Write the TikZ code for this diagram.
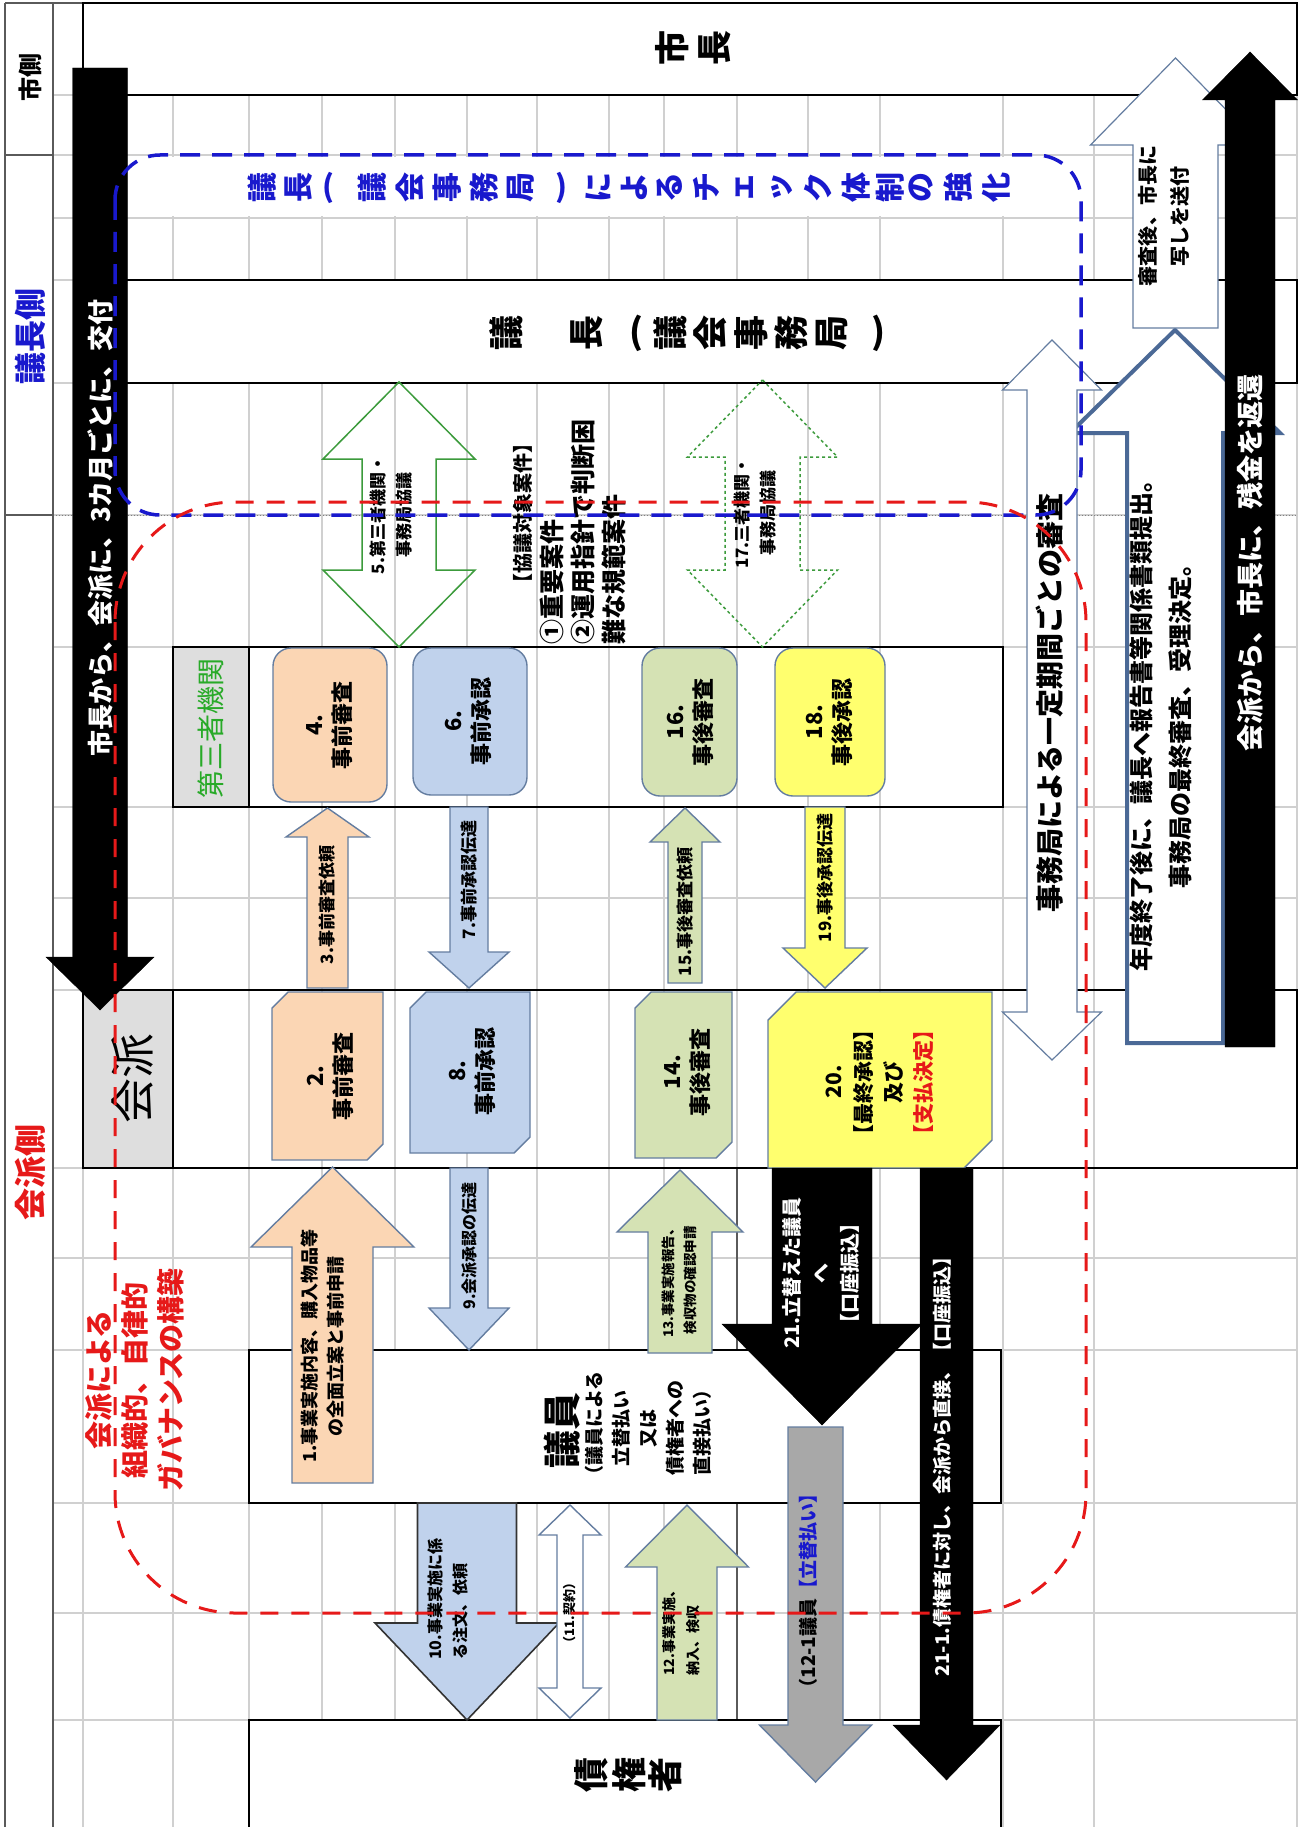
\documentclass[tikz,border=0pt]{standalone}
\usepackage{fontspec}
\setmainfont{Noto Sans CJK JP}
\newcommand{\fsz}[2]{\fontsize{#1}{#2}\selectfont}
\newcommand{\myLP}{(}
\newcommand{\myRP}{)}
\definecolor{gridc}{RGB}{208,208,208}
\definecolor{bordc}{RGB}{100,125,160}
\definecolor{steel}{RGB}{75,105,150}
\definecolor{orf}{RGB}{251,214,180}
\definecolor{blf}{RGB}{192,210,236}
\definecolor{grf}{RGB}{213,226,180}
\definecolor{ylf}{RGB}{255,255,110}
\definecolor{hatf}{RGB}{222,222,222}
\definecolor{grnt}{RGB}{40,170,40}
\definecolor{grnl}{RGB}{60,155,60}
\definecolor{bluet}{RGB}{25,25,205}
\definecolor{redt}{RGB}{230,25,25}
\definecolor{grayf}{RGB}{168,168,168}
\definecolor{colc}{RGB}{90,90,90}
\usetikzlibrary{calc}
% vertical block arrow: style, xc, ytip, yheadbase, ytail, shaft half, head half
\newcommand{\VArrow}[7]{\draw[#1] (#2,#3) -- ({#2+#7},#4) -- ({#2+#6},#4) -- ({#2+#6},#5) -- ({#2-#6},#5) -- ({#2-#6},#4) -- ({#2-#7},#4) -- cycle;}
% vertical double arrow: style, xc, top tip, top base, bottom base, bottom tip, shaft half, head half
\newcommand{\VDArrow}[8]{\draw[#1] (#2,#3) -- ({#2+#8},#4) -- ({#2+#7},#4) -- ({#2+#7},#5) -- ({#2+#8},#5) -- (#2,#6) -- ({#2-#8},#5) -- ({#2-#7},#5) -- ({#2-#7},#4) -- ({#2-#8},#4) -- cycle;}
% snipped box: style, x1, y1, x2, y2, cut
\newcommand{\SnipBox}[6]{\draw[#1] (#2,{#3+#6}) -- ({#2+#6},#3) -- (#4,#3) -- (#4,{#5-#6}) -- ({#4-#6},#5) -- (#2,#5) -- cycle;}
\begin{document}
\begin{tikzpicture}[x=1pt,y=-1pt,
  txt/.style={rotate=90,align=center,inner sep=0pt},
  box/.style={draw=black,line width=1.6pt},
  shp/.style={draw=bordc,line width=1.4pt}]
\useasboundingbox (0,0) rectangle (1311,1827);
\fill[white] (0,0) rectangle (1311,1827);
% grid
\foreach \gx in {83,173,249,322,395,467,537,609,664,737,808,880,1003,1094,1297}
  \draw[gridc,line width=1.2pt] (\gx,3) -- (\gx,1827);
\foreach \gy in {95,155,218,280,383,515,647,807,898,990,1168,1258,1350,1503,1613,1720}
  \draw[gridc,line width=1.2pt] (53,\gy) -- (1297,\gy);
\draw[gray,line width=1pt,dotted] (53,515) -- (1297,515);
\draw[colc,line width=1.6pt] (737,1168) -- (737,1350) (737,1503) -- (737,1720);
% label column
\draw[colc,line width=1.4pt] (5,3) -- (5,1827) (53,3) -- (53,1827) (5,3) -- (1297,3) (5,155) -- (53,155) (5,515) -- (53,515);
% boxes
\fill[white] (127,157) rectangle (1085,216);
\draw[box,fill=white] (83,3) rectangle (1297,95);
\draw[box,fill=white] (83,280) rectangle (1297,383);
\draw[box] (173,647) rectangle (1003,807);
\draw[box,fill=hatf] (173,647) rectangle (249,807);
\draw[box] (83,990) rectangle (1297,1168);
\draw[box,fill=hatf] (83,990) rectangle (173,1168);
\draw[box,fill=white] (249,1350) rectangle (1001,1503);
\fill[white] (249,1720) rectangle (1001,1827);
\draw[box] (249,1827) -- (249,1720) -- (1001,1720) -- (1001,1827);
% third-party row boxes
\draw[shp,fill=orf,rounded corners=18pt] (273,648) rectangle (387,802);
\draw[shp,fill=blf,rounded corners=18pt] (413,648) rectangle (527,795);
\draw[shp,fill=grf,rounded corners=18pt] (642,648) rectangle (737,796);
\draw[shp,fill=ylf,rounded corners=18pt] (775,648) rectangle (885,796);
% faction row boxes
\SnipBox{shp,fill=orf}{272}{992}{383}{1160}{16}
\SnipBox{shp,fill=blf}{410}{992}{530}{1153}{16}
\SnipBox{shp,fill=grf}{635}{992}{732}{1158}{16}
\SnipBox{shp,fill=ylf}{768}{992}{992}{1168}{28}
% big arrows
\VArrow{fill=black}{100}{1010}{957}{68}{27.5}{54}
\VArrow{fill=white,draw=steel,line width=4pt}{1175}{330}{433}{1043}{48}{105}
\VArrow{fill=white,draw=bordc,line width=1.2pt}{1175.5}{58}{145}{328}{42.5}{85}
\VArrow{fill=black}{1250}{52}{100}{1047}{25}{47.5}
\VDArrow{fill=white,draw=bordc,line width=1.2pt}{1052}{340}{390}{1012}{1060}{25}{49.5}
\VDArrow{draw=grnl,line width=1.5pt}{399}{382}{459}{570}{647}{37}{76}
\VDArrow{draw=grnl,line width=1.5pt,dashed}{762.5}{380}{457}{570}{647}{37.5}{75}
% small arrows
\VArrow{shp,fill=orf}{327.5}{808}{837}{988}{20.5}{41.5}
\VArrow{shp,fill=blf}{469}{988}{952}{807}{19}{40}
\VArrow{shp,fill=grf}{685}{808}{842}{983}{17}{35}
\VArrow{shp,fill=ylf}{825}{988}{948}{807}{20}{42}
\VArrow{shp,fill=orf}{332.5}{1167}{1247}{1483}{40.5}{81.5}
\VArrow{shp,fill=blf}{469}{1350}{1308}{1168}{19}{40}
\VArrow{shp,fill=grf}{680}{1170}{1232}{1353}{32}{63}
\VArrow{fill=black}{822}{1425}{1324}{1168}{50}{100}
\VArrow{shp,fill=grayf}{815.5}{1782}{1725}{1427}{27.5}{56}
\VArrow{fill=black}{946.5}{1780}{1725}{1168}{26.5}{53.5}
\VArrow{draw=black!80,line width=1.6pt,fill=blf}{467}{1720}{1623}{1503}{49.5}{92}
\VDArrow{fill=white,draw=bordc,line width=1.4pt}{570}{1505}{1535}{1688}{1718}{13}{31}
\VArrow{shp,fill=grf}{687}{1505}{1567}{1720}{30}{61.5}
% left labels
\node[txt,font=\fsz{24}{24}\bfseries] (lblcity) at (30,78) {市側};
\node[txt,font=\fsz{32}{32}\bfseries,text=bluet] (lblchair) at (30,336) {議長側};
\node[txt,font=\fsz{32}{32}\bfseries,text=redt] (lblfaction) at (30,1172) {会派側};
% vertical-written texts
\foreach \ch/\xx [count=\i] in {市/672,長/715}
  \node[rotate=90,inner sep=0pt,font=\fsz{35}{35}\bfseries] (mayor\i) at (\xx,48) {\ch};
\foreach \ch/\xx/\rr [count=\i] in {議/506/90,長/587/90,\myLP/636/0,議/670/90,会/710/90,事/751/90,務/791/90,局/832/90,\myRP/878/0}
  \node[rotate=\rr,inner sep=0pt,font=\fsz{35}{35}\bfseries] (chair\i) at (\xx,333) {\ch};
\foreach \ch/\xx/\rr [count=\i] in {議/262/90,長/299/90,\myLP/328/0,議/372/90,会/410/90,事/447/90,務/484/90,局/521/90,\myRP/561/0,に/598/90,よ/634/90,る/670/90,チ/706/90,ェ/745/90,ッ/782/90,ク/818/90,体/856/90,制/890/90,の/921/90,強/958/90,化/996/90}
  \node[rotate=\rr,inner sep=0pt,font=\fsz{30}{30}\bfseries,text=bluet] (check\i) at (\xx,188) {\ch};
\foreach \ch/\xx [count=\i] in {債/591,権/629,者/665}
  \node[rotate=90,inner sep=0pt,font=\fsz{35}{35}\bfseries] (cred\i) at (\xx,1775) {\ch};
% row labels
\node[txt,font=\fsz{28}{28},text=grnt] (lbl3rd) at (211,728) {第三者機関};
\node[txt,font=\fsz{45}{45}] (lblkaiha) at (133,1078) {会派};
% big arrow texts
\node[txt,font=\fsz{26}{26}\bfseries,text=white] (tleft) at (100,528) {市長から、会派に、3カ月ごとに、交付};
\node[txt,font=\fsz{27}{27}\bfseries,text=white] (tright) at (1250,563) {会派から、市長に、残金を返還};
\node[txt,font=\fsz{20}{32}\bfseries] (tcopy) at (1164,216) {審査後、市長に\\写しを送付};
\node[txt,font=\fsz{24}{39}\bfseries] (tyear) at (1161,720) {年度終了後に、議長へ報告書等関係書類提出。\\事務局の最終審査、受理決定。};
\node[txt,font=\fsz{28}{28}\bfseries] (tsec) at (1050,703) {事務局による一定期間ごとの審査};
% box texts
\node[txt,font=\fsz{22}{28}\bfseries] (t4) at (330,725) {4.\\事前審査};
\node[txt,font=\fsz{22}{28}\bfseries] (t6) at (468,721) {6.\\事前承認};
\node[txt,font=\fsz{22}{28}\bfseries] (t16) at (690,722) {16.\\事後審査};
\node[txt,font=\fsz{22}{28}\bfseries] (t18) at (829,722) {18.\\事後承認};
\node[txt,font=\fsz{22}{28}\bfseries] (t2) at (330,1076) {2.\\事前審査};
\node[txt,font=\fsz{22}{28}\bfseries] (t8) at (472,1071) {8.\\事前承認};
\node[txt,font=\fsz{22}{28}\bfseries] (t14) at (688,1072) {14.\\事後審査};
\node[txt,font=\fsz{21}{30}\bfseries] (t20) at (880,1082) {20.\\【最終承認】\\及び\\\textcolor{redt}{【支払決定】}};
% arrow texts
\node[txt,font=\fsz{17}{17}\bfseries] (t3) at (327.5,905) {3.事前審査依頼};
\node[txt,font=\fsz{17}{17}\bfseries] (t7) at (469,880) {7.事前承認伝達};
\node[txt,font=\fsz{17}{17}\bfseries] (t15) at (685,912) {15.事後審査依頼};
\node[txt,font=\fsz{17}{17}\bfseries] (t19) at (825,878) {19.事後承認伝達};
\node[txt,font=\fsz{17}{26}\bfseries] (t5) at (391,515) {5.第三者機関・\\事務局協議};
\node[txt,font=\fsz{17}{26}\bfseries] (t17) at (755,513) {17.三者機関・\\事務局協議};
\node[txt,anchor=west,font=\fsz{20}{20}\bfseries] (tq1) at (523,594) {【協議対象案件】};
\node[txt,anchor=north west,align=left,font=\fsz{25}{31}\bfseries] (tq2) at (540,645) {①重要案件\\②運用指針で判断困\\難な規範案件};
\node[txt,font=\fsz{18}{26}\bfseries] (t1) at (323,1346) {1.事業実施内容、購入物品等\\の全面立案と事前申請};
\node[txt,font=\fsz{16}{16}\bfseries] (t9) at (469,1246) {9.会派承認の伝達};
\node[txt,font=\fsz{13.5}{22}\bfseries] (t13) at (679,1280) {13.事業実施報告、\\検収物の確認申請};
\node[txt,font=\fsz{20}{29}\bfseries,text=white] (t21) at (821,1273) {21.立替えた議員\\へ\\【口座振込】};
\node[txt,font=\fsz{19}{19}\bfseries] (t121) at (808,1591) {（12-1議員\textcolor{bluet}{【立替払い】}};
\node[txt,font=\fsz{19}{19}\bfseries,text=white] (t211) at (942,1462) {21-1.債権者に対し、会派から直接、【口座振込】};
\node[txt,anchor=north west,align=left,font=\fsz{16}{25}\bfseries] (t10) at (428,1660) {10.事業実施に係\\る注文、依頼};
\node[txt,font=\fsz{13}{13}\bfseries] (t11) at (570,1613) {（11.契約）};
\node[txt,anchor=north west,align=left,font=\fsz{14}{24}\bfseries] (t12) at (662,1676) {12.事業実施、\\納入、検収};
\node[txt,font=\fsz{38}{38}\bfseries] (tgiin) at (562,1430) {議員};
\node[txt,font=\fsz{19}{27}\bfseries] (tgiin2) at (648,1428) {（議員による\\立替払い\\又は\\債権者への\\直接払い）};
\node[txt,font=\fsz{28}{36}\bfseries,text=redt] (tgov) at (135,1380) {会派による\\組織的、自律的\\ガバナンスの構築};
% dashed frames
\draw[bluet,line width=3.5pt,dash pattern=on 20pt off 12pt,rounded corners=45pt] (115,155) rectangle (1081,515);
\draw[redt,line width=3pt,dash pattern=on 18pt off 13pt,rounded corners=120pt] (115,502) rectangle (1086,1613);
\end{tikzpicture}
\end{document}
